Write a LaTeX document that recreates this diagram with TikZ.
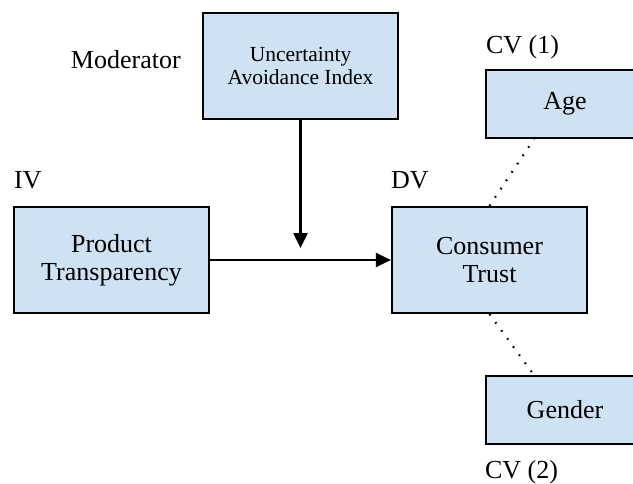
\documentclass[tikz,border=0pt]{standalone}
\usepackage{fontspec}
\setmainfont{Liberation Serif}
\usetikzlibrary{positioning,arrows.meta}

\definecolor{boxblue}{RGB}{207,226,243}

\tikzset{
  varbox/.style={draw, line width=2.2pt, fill=boxblue, align=center, inner sep=0pt,
    font=\fontsize{26}{28}\selectfont},
  lbl/.style={inner sep=0pt, font=\fontsize{26}{28}\selectfont},
  link/.style={line width=2.2pt, -{Triangle[length=15pt,width=14pt]}},
  ctrl/.style={line width=2.2pt, dash pattern=on 1.6pt off 8.4pt},
}

\begin{document}
\begin{tikzpicture}[x=1pt,y=-1pt]

  % Define box sizes
  \def\w{195pt}
  \def\h{106pt}

  % Frame
  \useasboundingbox (0,0) rectangle (633,483);
  \clip (0,0) rectangle (633,483);

  % Variables
  \node[varbox, minimum width=\w, minimum height=\h, font=\fontsize{21.5}{23}\selectfont]
       (uai) at (300.5,66) {Uncertainty\\Avoidance Index};
  \node[varbox, minimum width=\w, minimum height=\h] (pt) at (111.5,260) {Product\\Transparency};
  \node[varbox, minimum width=\w, minimum height=\h] (ct) at (489.5,260) {Consumer\\Trust};
  \node[varbox, minimum width=158pt, minimum height=68pt] (age)    at (565,104) {Age};
  \node[varbox, minimum width=158pt, minimum height=68pt] (gender) at (565,410) {Gender};

  % Roles
  \node[lbl, anchor=base east] (mod) at ([xshift=-21pt,yshift=-2.5pt]uai.west) {Moderator};
  \node[lbl, anchor=base west] (iv)  at ([xshift=1pt,yshift=17pt]pt.north west) {IV};
  \node[lbl, anchor=base west] (dv)  at ([yshift=17pt]ct.north west) {DV};
  \node[lbl, anchor=base west] (cv1) at ([xshift=1pt,yshift=15pt]age.north west) {CV (1)};
  \node[lbl, anchor=base west] (cv2) at ([yshift=-33pt]gender.south west) {CV (2)};

  % Effects
  \coordinate[below=128pt of uai.south] (hit);
  \draw[link] (uai.south) -- (hit);
  \draw[link] (pt.east) -- (ct.west);

  % Controls
  \draw[ctrl] (ct.north) -- ([xshift=49pt]age.south west);
  \draw[ctrl] (ct.south) -- ([xshift=49pt]gender.north west);

\end{tikzpicture}
\end{document}
